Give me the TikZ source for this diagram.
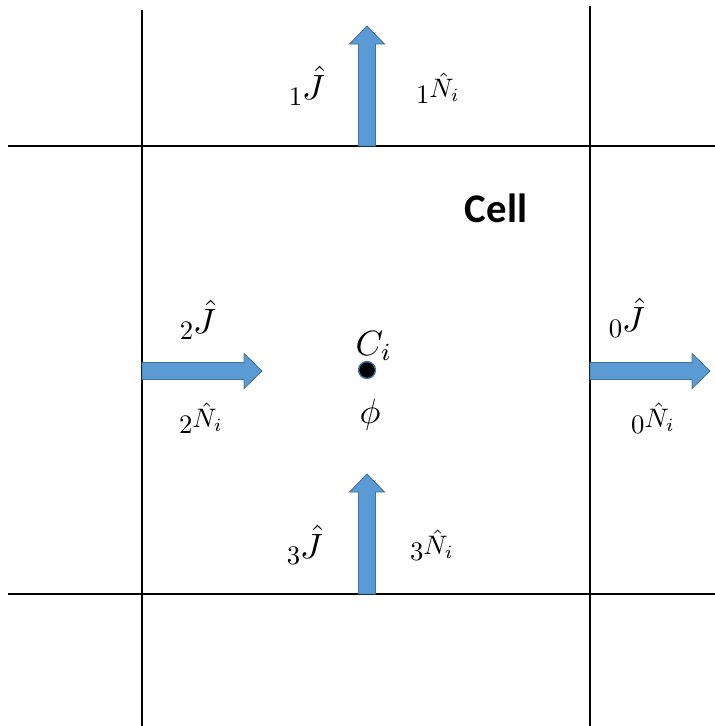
\documentclass[tikz,border=0pt]{standalone}
\usepackage{amsmath}
\usepackage{fontspec}
\newfontfamily\cellfont{Carlito}
\usepackage{tikz}

\definecolor{fluxblue}{HTML}{5B9BD5}
\definecolor{fluxedge}{HTML}{41719C}

% face labels: digit set low in front of the symbol
\newcommand{\fluxJ}[1]{\raisebox{-4pt}{\scalebox{1.9}{$#1$}}\scalebox{2.5}{$\hat{J}$}}
\newcommand{\normN}[1]{\scalebox{1.9}{\raisebox{-2pt}{$#1$}$\hat{N}_i$}}

\begin{document}
\begin{tikzpicture}[
   x=0.025cm, y=-0.025cm,
   grid/.style={line width=1.2pt, black},
   flux/.style={fill=fluxblue, draw=fluxedge, line width=0.6pt},
   lbl/.style={inner sep=0pt},
   ]
   \useasboundingbox (0,0) rectangle (715,726);

   % cell edges
   \draw[grid] (142,10) -- (142,726);
   \draw[grid] (590,6) -- (590,726);
   \draw[grid] (8,146) -- (715,146);
   \draw[grid] (8,594) -- (715,594);

   % flux arrows through the faces
   \foreach \x/\y/\a in {142/371/0, 590/371/0, 367/146/90, 367/594/90}
   \filldraw[flux, shift={(\x,\y)}, rotate=\a]
   (0,-8.5) -- (102,-8.5) -- (102,-17.5) -- (120,0) -- (102,17.5) -- (102,8.5) -- (0,8.5) -- cycle;

   % cell centre
   \node[circle, fill=black, draw=fluxedge, line width=1pt,
   minimum size=0.42cm, inner sep=0pt] (centre) at (367,370) {};
   \node[lbl] (ci) at (374,346) {\scalebox{2.5}{$C_i$}};
   \node[lbl] (phi) at (370,415) {\scalebox{2.5}{$\phi$}};
   \node[lbl] (cell) at (496,208) {\fontsize{29}{34}\selectfont\cellfont\bfseries Cell};

   % J labels
   \foreach \k/\x/\y in {1/307/86, 2/198/320, 0/627/318, 3/305/545}
   \node[lbl] (J\k) at (\x,\y) {\fluxJ{\k}};

   % N labels
   \foreach \k/\x/\y in {1/438/88, 2/201/418, 0/653/418, 3/432/545}
   \node[lbl] (N\k) at (\x,\y) {\normN{\k}};
\end{tikzpicture}
\end{document}
